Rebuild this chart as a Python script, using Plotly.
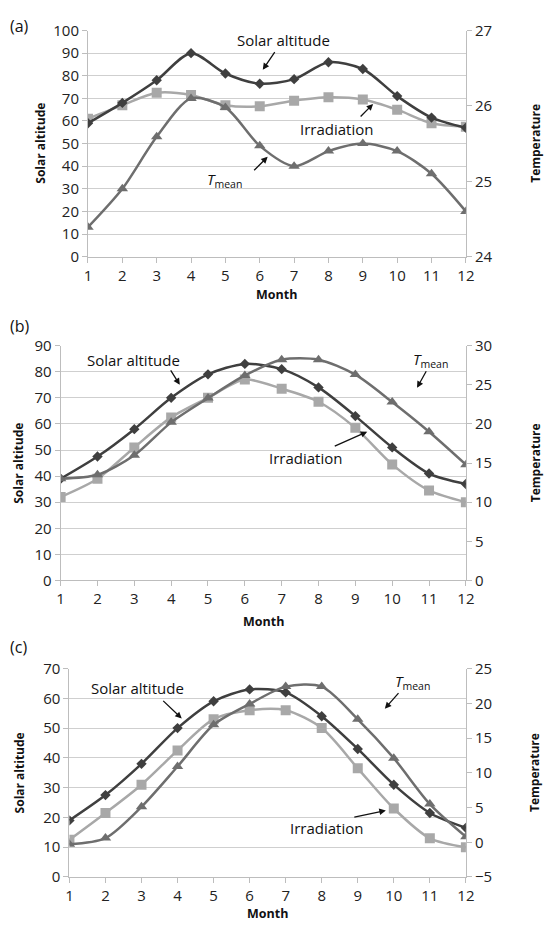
import plotly.graph_objects as go

W, H = 553, 931
months = list(range(1, 13))

# Panel (a)
a_solar = [59, 68, 78, 90, 81, 76.5, 78.5, 86, 83, 71, 61.5, 57]
a_irr = [61, 67, 72.5, 71.5, 67, 66.5, 69, 70.5, 69.5, 65, 59, 57.5]
a_temp = [24.39, 24.9, 25.59, 26.1, 25.98, 25.47, 25.2, 25.4, 25.5, 25.4, 25.1, 24.6]
# Panel (b)
b_solar = [39, 47.5, 58, 70, 79, 83, 81, 74, 63, 51, 41, 37]
b_irr = [32, 39, 51, 62.5, 70, 77, 73.5, 68.5, 58.5, 44.5, 34.5, 30]
b_temp = [13, 13.5, 16, 20.2, 23.3, 26.2, 28.2, 28.2, 26.3, 22.8, 19, 14.8]
# Panel (c)
c_solar = [19, 27.5, 38, 50, 59, 63, 62, 54, 43, 31, 21.5, 16.5]
c_irr = [12.5, 21.5, 31, 42.5, 53, 56, 56, 50, 36.5, 23, 13, 10]
c_temp = [-0.3, 0.6, 5.1, 10.9, 16.9, 19.9, 22.4, 22.4, 17.7, 12.1, 5.5, 0.8]

C_SOLAR = "#3f3f3f"
C_IRR = "#a8a8a8"
C_TEMP = "#6e6e6e"
FONT = "Open Sans"
TICKFONT = dict(family=FONT, size=15, color="#222")

def px(x):
    return x / W

def py(y):
    return 1 - y / H

panels = [
    dict(sol=a_solar, irr=a_irr, tmp=a_temp, x0=86, y0=20, y1=251, mon=290, lt=37,
         lrange=[0, 100], ldtick=10, rrange=[24, 27], rdtick=1),
    dict(sol=b_solar, irr=b_irr, tmp=b_temp, x0=58, y0=342, y1=582, mon=624, lt=14,
         lrange=[0, 90], ldtick=10, rrange=[0, 30], rdtick=5),
    dict(sol=c_solar, irr=c_irr, tmp=c_temp, x0=67, y0=672, y1=885, mon=922, lt=16,
         lrange=[0, 70], ldtick=10, rrange=[-5, 25], rdtick=5),
]

fig = go.Figure()
layout = {}
annotations = []
X1 = 473

def text_ann(text, x, y, size, angle=0, xanchor="center"):
    annotations.append(dict(text=text, x=px(x), y=py(y), xref="paper", yref="paper",
                            xanchor=xanchor, yanchor="middle", textangle=angle,
                            showarrow=False, font=dict(family=FONT, size=size, color="#111")))

for i, p in enumerate(panels):
    n = i + 1
    xa = "x" if n == 1 else f"x{n}"
    yl = "y" if n == 1 else f"y{2*n-1}"
    yr = f"y{2*n}"
    fig.add_trace(go.Scatter(x=months, y=p["irr"], xaxis=xa, yaxis=yl, mode="lines+markers",
                             line=dict(color=C_IRR, width=2.5, shape="spline", smoothing=0.8),
                             marker=dict(symbol="square", size=10, color=C_IRR), showlegend=False))
    fig.add_trace(go.Scatter(x=months, y=p["tmp"], xaxis=xa, yaxis=yr, mode="lines+markers",
                             line=dict(color=C_TEMP, width=2.5, shape="spline", smoothing=0.8),
                             marker=dict(symbol="triangle-up", size=10, color=C_TEMP), showlegend=False))
    fig.add_trace(go.Scatter(x=months, y=p["sol"], xaxis=xa, yaxis=yl, mode="lines+markers",
                             line=dict(color=C_SOLAR, width=2.5, shape="spline", smoothing=0.8),
                             marker=dict(symbol="diamond", size=8, color=C_SOLAR), showlegend=False))
    xkey = "xaxis" if n == 1 else f"xaxis{n}"
    ylkey = "yaxis" if n == 1 else f"yaxis{2*n-1}"
    yrkey = f"yaxis{2*n}"
    xdom = [px(p["x0"]), px(X1)]
    ydom = [py(p["y1"]), py(p["y0"])]
    layout[xkey] = dict(domain=xdom, range=[1, 12], dtick=1, tick0=1, anchor=yl,
                        showgrid=False, zeroline=False, showline=True, linecolor="#bdbdbd",
                        ticks="outside", ticklen=5, tickcolor="#bdbdbd", tickfont=TICKFONT)
    layout[ylkey] = dict(domain=ydom, range=p["lrange"], dtick=p["ldtick"], anchor=xa,
                         showgrid=True, gridcolor="#cfcfcf", gridwidth=1.2, zeroline=False,
                         showline=True, linecolor="#bdbdbd", ticks="outside", ticklen=5,
                         tickcolor="#bdbdbd", tickfont=TICKFONT)
    layout[yrkey] = dict(domain=ydom, range=p["rrange"], dtick=p["rdtick"], anchor=xa,
                         overlaying=yl, side="right", showgrid=False, zeroline=False,
                         showline=True, linecolor="#bdbdbd", ticks="outside", ticklen=5,
                         tickcolor="#bdbdbd", tickfont=TICKFONT)
    ymid = (p["y0"] + p["y1"]) / 2
    text_ann("<b>Solar altitude</b>", p["lt"], ymid, 12, angle=-90)
    text_ann("<b>Temperature</b>", 544, ymid, 12, angle=-90)
    text_ann("<b>Month</b>", (p["x0"] + X1) / 2, p["mon"], 12.5)

# panel labels
for lab, yy in [("(a)", 15), ("(b)", 322), ("(c)", 650)]:
    text_ann(lab, 4, yy, 16, xanchor="left")

TM = "<i>T</i><sub>mean</sub>"

def label(text, x, y):
    text_ann(text, x, y, 15)

def arrow(tx, ty, hx, hy):
    annotations.append(dict(text="", x=px(hx), y=py(hy), xref="paper", yref="paper",
                            ax=tx - hx, ay=ty - hy, showarrow=True, arrowhead=2, arrowsize=1,
                            arrowwidth=1.3, arrowcolor="#111"))

# (a)
label("Solar altitude", 286, 30)
arrow(278, 41, 265, 60)
label("Irradiation", 341, 121)
arrow(364, 109, 378, 95)
label(TM, 226, 173)
arrow(255, 164, 270, 149)
# (b)
label("Solar altitude", 133, 357)
arrow(170, 366, 180, 382)
label(TM, 437, 357)
arrow(433, 367, 423, 385)
label("Irradiation", 309, 457)
arrow(338, 445, 372, 430)
# (c)
label("Solar altitude", 137, 692)
arrow(162, 704, 182, 723)
label(TM, 418, 686)
arrow(405, 696, 390, 713)
label("Irradiation", 330, 835)
arrow(358, 824, 391, 817)

fig.update_layout(width=W, height=H, margin=dict(l=0, r=0, t=0, b=0),
                  paper_bgcolor="white", plot_bgcolor="white",
                  annotations=annotations, **layout)

fig.write_html("out.html")
